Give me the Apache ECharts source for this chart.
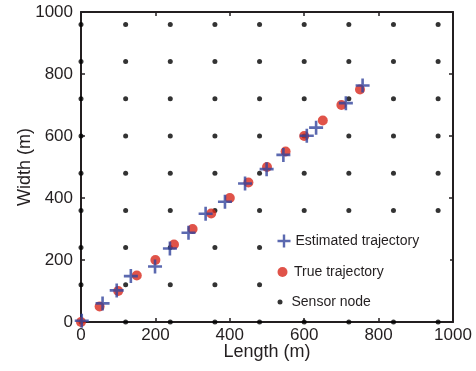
<!DOCTYPE html>
<html>
<head>
<meta charset="utf-8">
<style>
  html, body { margin: 0; padding: 0; background: #fff; }
  #chart { width: 476px; height: 371px; }
</style>
<script src="https://cdn.jsdelivr.net/npm/echarts@6/dist/echarts.min.js"></script>
</head>
<body>
<div id="chart"></div>
<script>
// Sensor grid coordinates (m)
const sensorX = [0, 120, 240, 360, 480, 600, 720, 840, 960];
const sensorY = [0, 120, 240, 360, 480, 600, 720, 840, 960];

// True target trajectory (m)
const trueX = [0, 50, 100, 150, 200, 250, 300, 350, 400, 450, 500, 550, 600, 650, 700, 750];
const trueY = [0, 50, 100, 150, 200, 250, 300, 350, 400, 450, 500, 550, 600, 650, 700, 750];

// Estimated trajectory (m)
const estX = [2, 58, 96, 134, 199, 239, 289, 335, 387, 441, 499, 544, 607, 632, 712, 757];
const estY = [4, 60, 102, 148, 179, 237, 288, 349, 388, 447, 493, 539, 601, 627, 706, 763];

// Axis ticks
const axisMin = 0;
const axisMax = 1000;
const axisStep = 200;

const FONT = 'Liberation Sans, Arial, Helvetica, sans-serif';
const INK = '#231f20';
const BLUE = '#32449c';
const RED = '#d8281b';
const CROSS = 'path://M-1.3,-7L1.3,-7L1.3,-1.3L7,-1.3L7,1.3L1.3,1.3L1.3,7L-1.3,7L-1.3,1.3L-7,1.3L-7,-1.3L-1.3,-1.3Z';

const sensorData = [];
sensorX.forEach(x => sensorY.forEach(y => sensorData.push([x, y])));
const trueData = trueX.map((x, i) => [x, trueY[i]]);
const estData = estX.map((x, i) => [x, estY[i]]);

const axisLine = { show: true, onZero: false, lineStyle: { color: INK, width: 2 } };
const axisTick = { show: true, inside: true, length: 4, lineStyle: { color: INK, width: 1.5 } };
const axisLabel = { color: INK, fontFamily: FONT, fontSize: 17, formatter: v => String(v) };

function mainAxis(pos, name, gap, extra) {
  return Object.assign({
    type: 'value', position: pos, min: axisMin, max: axisMax, interval: axisStep,
    name: name, nameLocation: 'middle', nameGap: gap, nameMoveOverlap: false,
    nameTextStyle: { color: INK, fontFamily: FONT, fontSize: 18 },
    axisLine: axisLine, axisTick: axisTick, axisLabel: axisLabel,
    splitLine: { show: false }
  }, extra || {});
}
function mirrorAxis(pos) {
  return {
    type: 'value', position: pos, min: axisMin, max: axisMax, interval: axisStep,
    axisLine: axisLine, axisTick: axisTick, axisLabel: { show: false },
    splitLine: { show: false }
  };
}

function legendEntry(name, top, h) {
  return {
    data: [{ name: name }],
    left: 277.5, top: top, padding: 0,
    itemWidth: 13, itemHeight: h,
    textStyle: { color: INK, fontFamily: FONT, fontSize: 14 },
    selectedMode: false
  };
}

const chart = echarts.init(document.getElementById('chart'), null, { renderer: 'canvas' });
chart.setOption({
  animation: false,
  backgroundColor: '#fff',
  grid: { left: 81, right: 23, top: 12, bottom: 49, containLabel: false, outerBoundsMode: 'none' },
  xAxis: [
    mainAxis('bottom', 'Length (m)', 21, { axisLabel: Object.assign({}, axisLabel, { margin: 5 }) }),
    mirrorAxis('top')
  ],
  yAxis: [
    mainAxis('left', 'Width (m)', 47, { axisLabel: Object.assign({}, axisLabel, { margin: 8 }) }),
    mirrorAxis('right')
  ],
  legend: [
    legendEntry('Estimated trajectory', 234, 13),
    legendEntry('True trajectory', 265, 10),
    legendEntry('Sensor node', 295, 5)
  ],
  graphic: [{
    type: 'rect', z: 3,
    shape: { x: 268, y: 225, width: 182, height: 88 },
    style: { fill: '#fff' }
  }],
  series: [
    {
      name: 'Sensor node', type: 'scatter', data: sensorData, z: 2,
      symbol: 'circle', symbolSize: 5,
      itemStyle: { color: '#000' }
    },
    {
      name: 'True trajectory', type: 'scatter', data: trueData, z: 2,
      symbol: 'circle', symbolSize: 10,
      itemStyle: { color: RED }
    },
    {
      name: 'Estimated trajectory', type: 'scatter', data: estData, z: 2,
      symbol: CROSS, symbolSize: 14,
      itemStyle: { color: BLUE }
    }
  ]
});
</script>
</body>
</html>
